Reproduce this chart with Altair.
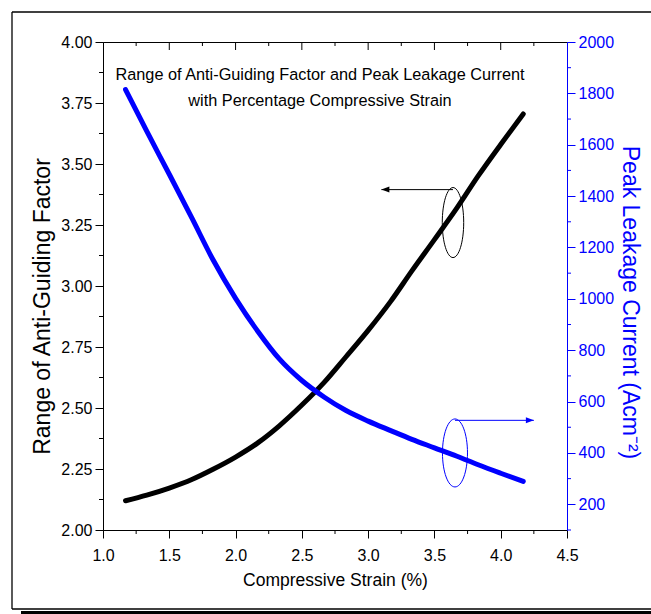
import altair as alt
import pandas as pd

# ---------------- data ----------------
strain = [1.17, 1.33, 1.5, 1.67, 1.83, 2.0, 2.17, 2.33, 2.5, 2.67, 2.83, 3.0,
          3.17, 3.33, 3.5, 3.67, 3.83, 4.0, 4.17]
anti_guiding = [2.120, 2.143, 2.172, 2.207, 2.249, 2.299, 2.358, 2.427, 2.512, 2.606,
                2.708, 2.818, 2.937, 3.062, 3.190, 3.320, 3.451, 3.580, 3.705]
leakage = [1815, 1653, 1485, 1315, 1152, 1002, 872, 766, 682, 617, 566, 524,
           487, 453, 420, 387, 354, 321, 289]

x_ticks = [1.0, 1.5, 2.0, 2.5, 3.0, 3.5, 4.0, 4.5]
x_minor = [1.25, 1.75, 2.25, 2.75, 3.25, 3.75, 4.25]
left_ticks = [2.0, 2.25, 2.5, 2.75, 3.0, 3.25, 3.5, 3.75, 4.0]
left_minor = [2.125, 2.375, 2.625, 2.875, 3.125, 3.375, 3.625, 3.875]
right_ticks = [200, 400, 600, 800, 1000, 1200, 1400, 1600, 1800, 2000]
right_minor = [100, 300, 500, 700, 900, 1100, 1300, 1500, 1700, 1900]

# annotation markers (ellipse around each curve + arrow to its axis)
agf_ellipse_x, agf_ellipse_y = [3.64], [3.26]
agf_arrow_x, agf_arrow_x2, agf_arrow_y = [3.64], [3.10], [3.395]
cur_ellipse_x, cur_ellipse_y = [3.655], [400]
cur_arrow_x, cur_arrow_x2, cur_arrow_y = [3.655], [4.25], [527]

title_lines = ["Range of Anti-Guiding Factor and Peak Leakage Current",
               "with Percentage Compressive Strain"]

# ---------------- styling ----------------
W, H = 464, 488
BLUE = "#0000ff"
NARROW = "Liberation Sans Narrow, Arial Narrow, Liberation Sans, Arial"
REG = "Liberation Sans, Arial"

xs = alt.Scale(domain=[1.0, 4.5], nice=False, zero=False)
ls = alt.Scale(domain=[2.0, 4.0], nice=False, zero=False)
rs = alt.Scale(domain=[100, 2000], nice=False, zero=False)

df = pd.DataFrame({"strain": strain, "agf": anti_guiding, "cur": leakage})

x_axis = alt.Axis(orient="bottom", values=x_ticks, format=".1f", tickSize=8, labelPadding=9,
                  labelFont=NARROW, labelFontSize=16, labelColor="black",
                  title="Compressive Strain (%)", titleFont=NARROW, titleFontSize=17.5,
                  titleFontWeight="normal", titleColor="black", titleY=55,
                  titleBaseline="alphabetic", grid=False, domainColor="black",
                  tickColor="black", labelFlush=False)
left_axis = alt.Axis(orient="left", values=left_ticks, format=".2f", tickSize=8, labelPadding=3,
                     labelFont=NARROW, labelFontSize=16, labelColor="black",
                     title="Range of Anti-Guiding Factor", titleFont=REG,
                     titleFontSize=23, titleFontWeight="normal", titleColor="black",
                     titleAngle=270, titleX=-54, titleY=264, titleBaseline="alphabetic",
                     titleAlign="center", grid=False, domainColor="black",
                     tickColor="black", labelFlush=False)
right_axis = alt.Axis(orient="right", values=right_ticks, format="d", tickSize=8,
                      labelPadding=3, labelFont=NARROW, labelFontSize=16,
                      labelColor=BLUE, title="Peak Leakage Current (Acm⁻²)",
                      titleFont=REG, titleFontSize=23, titleFontWeight="normal",
                      titleColor=BLUE, titleAngle=90, titleX=55, titleY=260,
                      titleBaseline="alphabetic", titleAlign="center", grid=False,
                      domainColor=BLUE, tickColor=BLUE, labelFlush=False)

black_line = alt.Chart(df).mark_line(color="black", strokeWidth=5, strokeCap="round",
                                     interpolate="monotone").encode(
    x=alt.X("strain:Q", scale=xs, axis=x_axis),
    y=alt.Y("agf:Q", scale=ls, axis=left_axis))

blue_line = alt.Chart(df).mark_line(color=BLUE, strokeWidth=5, strokeCap="round",
                                    interpolate="monotone").encode(
    x=alt.X("strain:Q", scale=xs, axis=None),
    y=alt.Y("cur:Q", scale=rs, axis=right_axis))

k = 0.5523
def ellipse_path(a):
    return (f"M {a} 0 C {a} {k} {k*a} 1 0 1 C {-k*a} 1 {-a} {k} {-a} 0 "
            f"C {-a} {-k} {-k*a} -1 0 -1 C {k*a} -1 {a} {-k} {a} 0 Z")

head_left = "M 0 0 L 2 -0.75 L 2 0.75 Z"
head_right = "M 0 0 L -2 -0.75 L -2 0.75 Z"

agf_ell = alt.Chart(pd.DataFrame({"x": agf_ellipse_x, "y": agf_ellipse_y})).mark_point(
    shape=ellipse_path(0.306), size=4900, filled=False, strokeWidth=1,
    color="black", opacity=1).encode(
    x=alt.X("x:Q", scale=xs, axis=None), y=alt.Y("y:Q", scale=ls, axis=None))
agf_arr = alt.Chart(pd.DataFrame({"x": agf_arrow_x, "x2": agf_arrow_x2, "y": agf_arrow_y})).mark_rule(
    color="black", strokeWidth=1).encode(
    x=alt.X("x:Q", scale=xs, axis=None), x2="x2:Q", y=alt.Y("y:Q", scale=ls, axis=None))
agf_head = alt.Chart(pd.DataFrame({"x": agf_arrow_x2, "y": agf_arrow_y})).mark_point(
    shape=head_left, size=64, filled=True, opacity=1, color="black", strokeWidth=0).encode(
    x=alt.X("x:Q", scale=xs, axis=None), y=alt.Y("y:Q", scale=ls, axis=None))

cur_ell = alt.Chart(pd.DataFrame({"x": cur_ellipse_x, "y": cur_ellipse_y})).mark_point(
    shape=ellipse_path(0.368), size=4624, filled=False, strokeWidth=1,
    color=BLUE, opacity=1).encode(
    x=alt.X("x:Q", scale=xs, axis=None), y=alt.Y("y:Q", scale=rs, axis=None))
cur_arr = alt.Chart(pd.DataFrame({"x": cur_arrow_x, "x2": cur_arrow_x2, "y": cur_arrow_y})).mark_rule(
    color=BLUE, strokeWidth=1).encode(
    x=alt.X("x:Q", scale=xs, axis=None), x2="x2:Q", y=alt.Y("y:Q", scale=rs, axis=None))
cur_head = alt.Chart(pd.DataFrame({"x": cur_arrow_x2, "y": cur_arrow_y})).mark_point(
    shape=head_right, size=64, filled=True, opacity=1, color=BLUE, strokeWidth=0).encode(
    x=alt.X("x:Q", scale=xs, axis=None), y=alt.Y("y:Q", scale=rs, axis=None))

# minor ticks (outward) and inward top ticks
bottom_minor = alt.Chart(pd.DataFrame({"v": x_minor})).mark_rule(color="black", strokeWidth=1).encode(
    x=alt.X("v:Q", scale=xs, axis=None), y=alt.value(H), y2=alt.value(H + 4))
top_major = alt.Chart(pd.DataFrame({"v": x_ticks[1:-1]})).mark_rule(color="black", strokeWidth=1).encode(
    x=alt.X("v:Q", scale=xs, axis=None), y=alt.value(0), y2=alt.value(8))
top_minor = alt.Chart(pd.DataFrame({"v": x_minor})).mark_rule(color="black", strokeWidth=1).encode(
    x=alt.X("v:Q", scale=xs, axis=None), y=alt.value(0), y2=alt.value(4))
left_min = alt.Chart(pd.DataFrame({"v": left_minor})).mark_rule(color="black", strokeWidth=1).encode(
    y=alt.Y("v:Q", scale=ls, axis=None), x=alt.value(0), x2=alt.value(-4))
right_min = alt.Chart(pd.DataFrame({"v": right_minor})).mark_rule(color=BLUE, strokeWidth=1).encode(
    y=alt.Y("v:Q", scale=rs, axis=None), x=alt.value(W), x2=alt.value(W + 4))

# outer frame of the figure
frame_top = alt.Chart().mark_rule(color="black", strokeWidth=1.3).encode(
    x=alt.value(-91), x2=alt.value(600), y=alt.value(-30))
frame_left = alt.Chart().mark_rule(color="black", strokeWidth=1.3).encode(
    x=alt.value(-91), y=alt.value(-30), y2=alt.value(567))
frame_bottom = alt.Chart().mark_rule(color="black", strokeWidth=1.3).encode(
    x=alt.value(-91), x2=alt.value(600), y=alt.value(567))
frame_shadow = alt.Chart().mark_rule(color="black", strokeWidth=3).encode(
    x=alt.value(-82), x2=alt.value(600), y=alt.value(570.5))

title = alt.Chart().mark_text(font=NARROW, fontSize=16.3, align="center",
                              baseline="alphabetic", lineHeight=26, color="black").encode(
    x=alt.value(217), y=alt.value(38), text=alt.value(title_lines))

chart = alt.layer(
    frame_top, frame_left, frame_bottom, frame_shadow,
    black_line, blue_line,
    agf_ell, agf_arr, agf_head, cur_ell, cur_arr, cur_head,
    bottom_minor, top_major, top_minor, left_min, right_min, title
).resolve_scale(y="independent").resolve_axis(x="independent").properties(
    width=W, height=H,
    autosize=alt.AutoSizeParams(type="none"),
    padding={"left": 103, "top": 42, "right": 84, "bottom": 84},
).configure_view(stroke="black", strokeWidth=1).configure_axis(
    domainWidth=1, tickWidth=1)

chart.save("out.html", embed_options={"renderer": "svg", "actions": False})
